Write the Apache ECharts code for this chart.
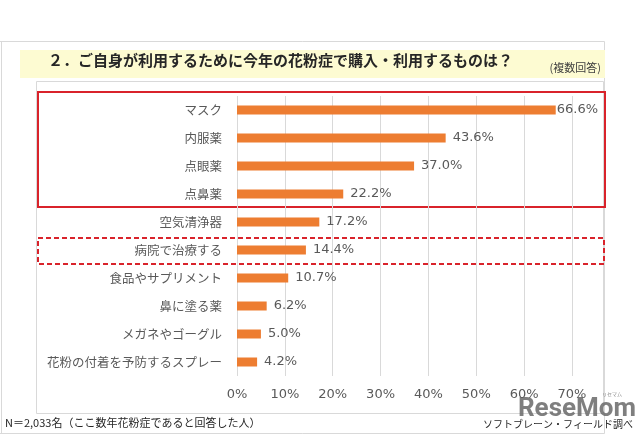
<!DOCTYPE html>
<html><head><meta charset="utf-8">
<script src="https://cdn.jsdelivr.net/npm/echarts@6/dist/echarts.min.js"></script>
<style>html,body{margin:0;padding:0;background:#fff}#c{width:640px;height:434px}</style>
</head><body><div id="c"></div>
<script>
const categories = ['マスク','内服薬','点眼薬','点鼻薬','空気清浄器','病院で治療する','食品やサプリメント','鼻に塗る薬','メガネやゴーグル','花粉の付着を予防するスプレー'];
const values = [66.6, 43.6, 37.0, 22.2, 17.2, 14.4, 10.7, 6.2, 5.0, 4.2];
const axisMax = 70;
const axisStep = 10;
const titleText = '２．ご自身が利用するために今年の花粉症で購入・利用するものは？';
const noteText = '(複数回答)';
const sampleText = 'N＝2,033名（ここ数年花粉症であると回答した人）';
const sourceText = 'ソフトブレーン・フィールド調べ';

const FF = '"Noto Sans CJK JP", "Noto Sans", sans-serif';
const NF = '"DejaVu Sans", "Noto Sans", sans-serif';
const chart = echarts.init(document.getElementById('c'), null, {renderer: 'canvas'});
const red = '#D9232B';
chart.setOption({
  backgroundColor: '#ffffff',
  animation: false,
  textStyle: {fontFamily: FF},
  grid: {left: 237, right: 68, top: 96, bottom: 58, containLabel: false},
  xAxis: {
    type: 'value', min: 0, max: axisMax, interval: axisStep,
    axisLine: {show: false}, axisTick: {show: false},
    splitLine: {show: true, lineStyle: {color: '#D9D9D9', width: 1}},
    axisLabel: {formatter: '{value}%', color: '#595959', fontSize: 13, margin: 12, fontFamily: NF}
  },
  yAxis: {
    type: 'category', data: categories, inverse: true,
    axisLine: {show: false}, axisTick: {show: false},
    axisLabel: {color: '#595959', fontSize: 12.5, margin: 15, fontFamily: FF}
  },
  series: [{
    type: 'bar', data: values.map((v, i) => i === 0 ? {value: v, label: {distance: 1}} : v),
    barWidth: 9,
    itemStyle: {color: '#ED7D31'},
    label: {show: true, position: 'right', distance: 7, color: '#595959', fontSize: 13, fontFamily: NF,
      formatter: p => p.value.toFixed(1) + '%'}
  }],
  graphic: [
    {type: 'polyline', silent: true, shape: {points: [[0, 41.5], [604.5, 41.5], [604.5, 433.5], [0, 433.5]]}, style: {stroke: '#D9D9D9', fill: null, lineWidth: 1}},
    {type: 'line', silent: true, shape: {x1: 1.5, y1: 41, x2: 1.5, y2: 434}, style: {stroke: '#D9D9D9', lineWidth: 1}},
    {type: 'rect', silent: true, shape: {x: 20, y: 50, width: 585, height: 28}, style: {fill: '#FDFBD2'}},
    {type: 'text', silent: true, style: {text: titleText, x: 48, y: 60, fill: '#262626', font: 'bold 15px ' + FF, textVerticalAlign: 'middle'}},
    {type: 'text', silent: true, style: {text: noteText, x: 601, y: 68, fill: '#404040', font: '11px ' + FF, textAlign: 'right', textVerticalAlign: 'middle'}},
    {type: 'rect', silent: true, shape: {x: 36.5, y: 81.5, width: 567, height: 332}, style: {stroke: '#D9D9D9', fill: null, lineWidth: 1}},
    {type: 'rect', silent: true, shape: {x: 38, y: 92, width: 567, height: 115}, style: {stroke: red, fill: null, lineWidth: 2}},
    {type: 'rect', silent: true, shape: {x: 38, y: 238, width: 566, height: 26}, style: {stroke: red, fill: null, lineWidth: 2, lineDash: [5, 3]}},
    {type: 'text', silent: true, style: {text: sampleText, x: 5, y: 423, fill: '#262626', font: '11px ' + FF, textVerticalAlign: 'middle'}},
    {type: 'text', silent: true, style: {text: 'ReseMom', x: 636, y: 409, fill: 'rgba(105,105,105,0.85)', font: 'bold 26px "Liberation Sans Narrow", "Roboto", sans-serif', textAlign: 'right', textVerticalAlign: 'middle'}},
    {type: 'text', silent: true, style: {text: 'リセマム', x: 622, y: 394, fill: '#8a8a8a', font: '5px ' + FF, textAlign: 'right', textVerticalAlign: 'middle'}},
    {type: 'text', silent: true, style: {text: sourceText, x: 633, y: 424, fill: '#262626', font: '10px ' + FF, textAlign: 'right', textVerticalAlign: 'middle'}}
  ]
});
</script></body></html>
